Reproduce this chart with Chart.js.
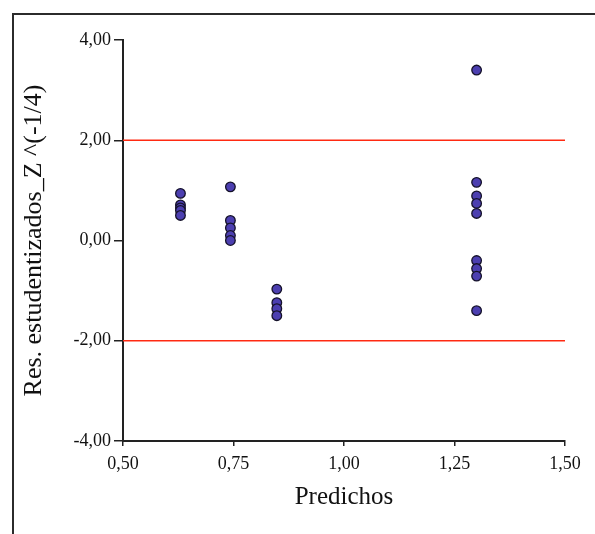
<!DOCTYPE html>
<html>
<head>
<meta charset="utf-8">
<script src="https://cdn.jsdelivr.net/npm/chart.js@4/dist/chart.umd.min.js"></script>
<style>
    html, body { margin: 0; padding: 0; background: #fff; }
    #wrap { width: 595px; height: 534px; position: relative; }
</style>
</head>
<body>
<div id="wrap"><canvas id="residuosChart"></canvas></div>
<script>
// Predichos vs residuos estudentizados, agrupados por valor predicho
const predichos = [0.63, 0.743, 0.848, 1.30];
const residuosGrupo1 = [0.94, 0.71, 0.65, 0.60, 0.50];
const residuosGrupo2 = [1.07, 0.40, 0.25, 0.10, 0.0];
const residuosGrupo3 = [-0.97, -1.24, -1.36, -1.50];
const residuosGrupo4 = [3.40, 1.16, 0.89, 0.74, 0.54, -0.40, -0.56, -0.71, -1.40];
const limites = [2, -2];
const xTicks = [0.5, 0.75, 1.0, 1.25, 1.5];
const yTicks = [-4, -2, 0, 2, 4];

const grupos = [residuosGrupo1, residuosGrupo2, residuosGrupo3, residuosGrupo4];

document.addEventListener('DOMContentLoaded', function () {
    initializeResiduosChart();
});

function formatComa(value) {
    return value.toFixed(2).replace('.', ',');
}

// Marco superior e izquierdo del panel
const marcoPlugin = {
    id: 'marco',
    beforeDraw(chart) {
        const ctx = chart.ctx;
        ctx.save();
        ctx.strokeStyle = '#2b2b2b';
        ctx.lineWidth = 2;
        ctx.beginPath();
        ctx.moveTo(13, chart.height);
        ctx.lineTo(13, 14);
        ctx.lineTo(chart.width, 14);
        ctx.stroke();
        ctx.restore();
    }
};

function initializeResiduosChart() {
    const chartCanvas = document.getElementById('residuosChart');
    if (!chartCanvas) return;

    const puntos = [];
    grupos.forEach((grupo, i) => {
        grupo.forEach(r => puntos.push({ x: predichos[i], y: r }));
    });

    const lineas = limites.map(l => ({
        type: 'line',
        data: [{ x: xTicks[0], y: l }, { x: xTicks[xTicks.length - 1], y: l }],
        borderColor: '#ff2a12',
        borderWidth: 1.6,
        pointRadius: 0,
        fill: false,
        order: 2
    }));

    new Chart(chartCanvas, {
        type: 'scatter',
        data: {
            datasets: [{
                data: puntos,
                backgroundColor: '#4c3fb0',
                borderColor: '#15122a',
                borderWidth: 1.3,
                pointRadius: 4.8,
                pointHoverRadius: 4.8,
                order: 1
            }].concat(lineas)
        },
        options: {
            responsive: true,
            maintainAspectRatio: false,
            animation: false,
            layout: {
                padding: { left: 14, top: 40, right: 30, bottom: 20 }
            },
            scales: {
                x: {
                    type: 'linear',
                    min: 0.5,
                    max: 1.5,
                    afterBuildTicks: function (scale) {
                        scale.ticks = xTicks.map(v => ({ value: v }));
                    },
                    afterFit: function (scale) {
                        scale.height = 73;
                    },
                    border: { color: '#222', width: 2 },
                    grid: {
                        drawOnChartArea: false,
                        drawTicks: true,
                        tickLength: 5,
                        color: '#222',
                        lineWidth: 1.5
                    },
                    ticks: {
                        padding: 7,
                        color: '#111',
                        font: { family: 'Liberation Serif', size: 18 },
                        maxRotation: 0,
                        callback: v => formatComa(v)
                    },
                    title: {
                        display: true,
                        text: 'Predichos',
                        color: '#111',
                        font: { family: 'Liberation Serif', size: 25 },
                        padding: { top: 0, bottom: 2 }
                    }
                },
                y: {
                    type: 'linear',
                    min: -4,
                    max: 4,
                    afterBuildTicks: function (scale) {
                        scale.ticks = yTicks.map(v => ({ value: v }));
                    },
                    afterFit: function (scale) {
                        scale.width = 109;
                    },
                    border: { color: '#222', width: 2 },
                    grid: {
                        drawOnChartArea: false,
                        drawTicks: true,
                        tickLength: 9,
                        color: '#222',
                        lineWidth: 1.5
                    },
                    ticks: {
                        padding: 3,
                        color: '#111',
                        font: { family: 'Liberation Serif', size: 18 },
                        callback: v => formatComa(v)
                    },
                    title: {
                        display: true,
                        text: 'Res. estudentizados_Z ^(-1/4)',
                        color: '#111',
                        font: { family: 'Liberation Serif', size: 26 },
                        padding: { top: 5, bottom: 0 }
                    }
                }
            },
            plugins: {
                legend: { display: false },
                tooltip: { enabled: false }
            }
        },
        plugins: [marcoPlugin]
    });
}
</script>
</body>
</html>
